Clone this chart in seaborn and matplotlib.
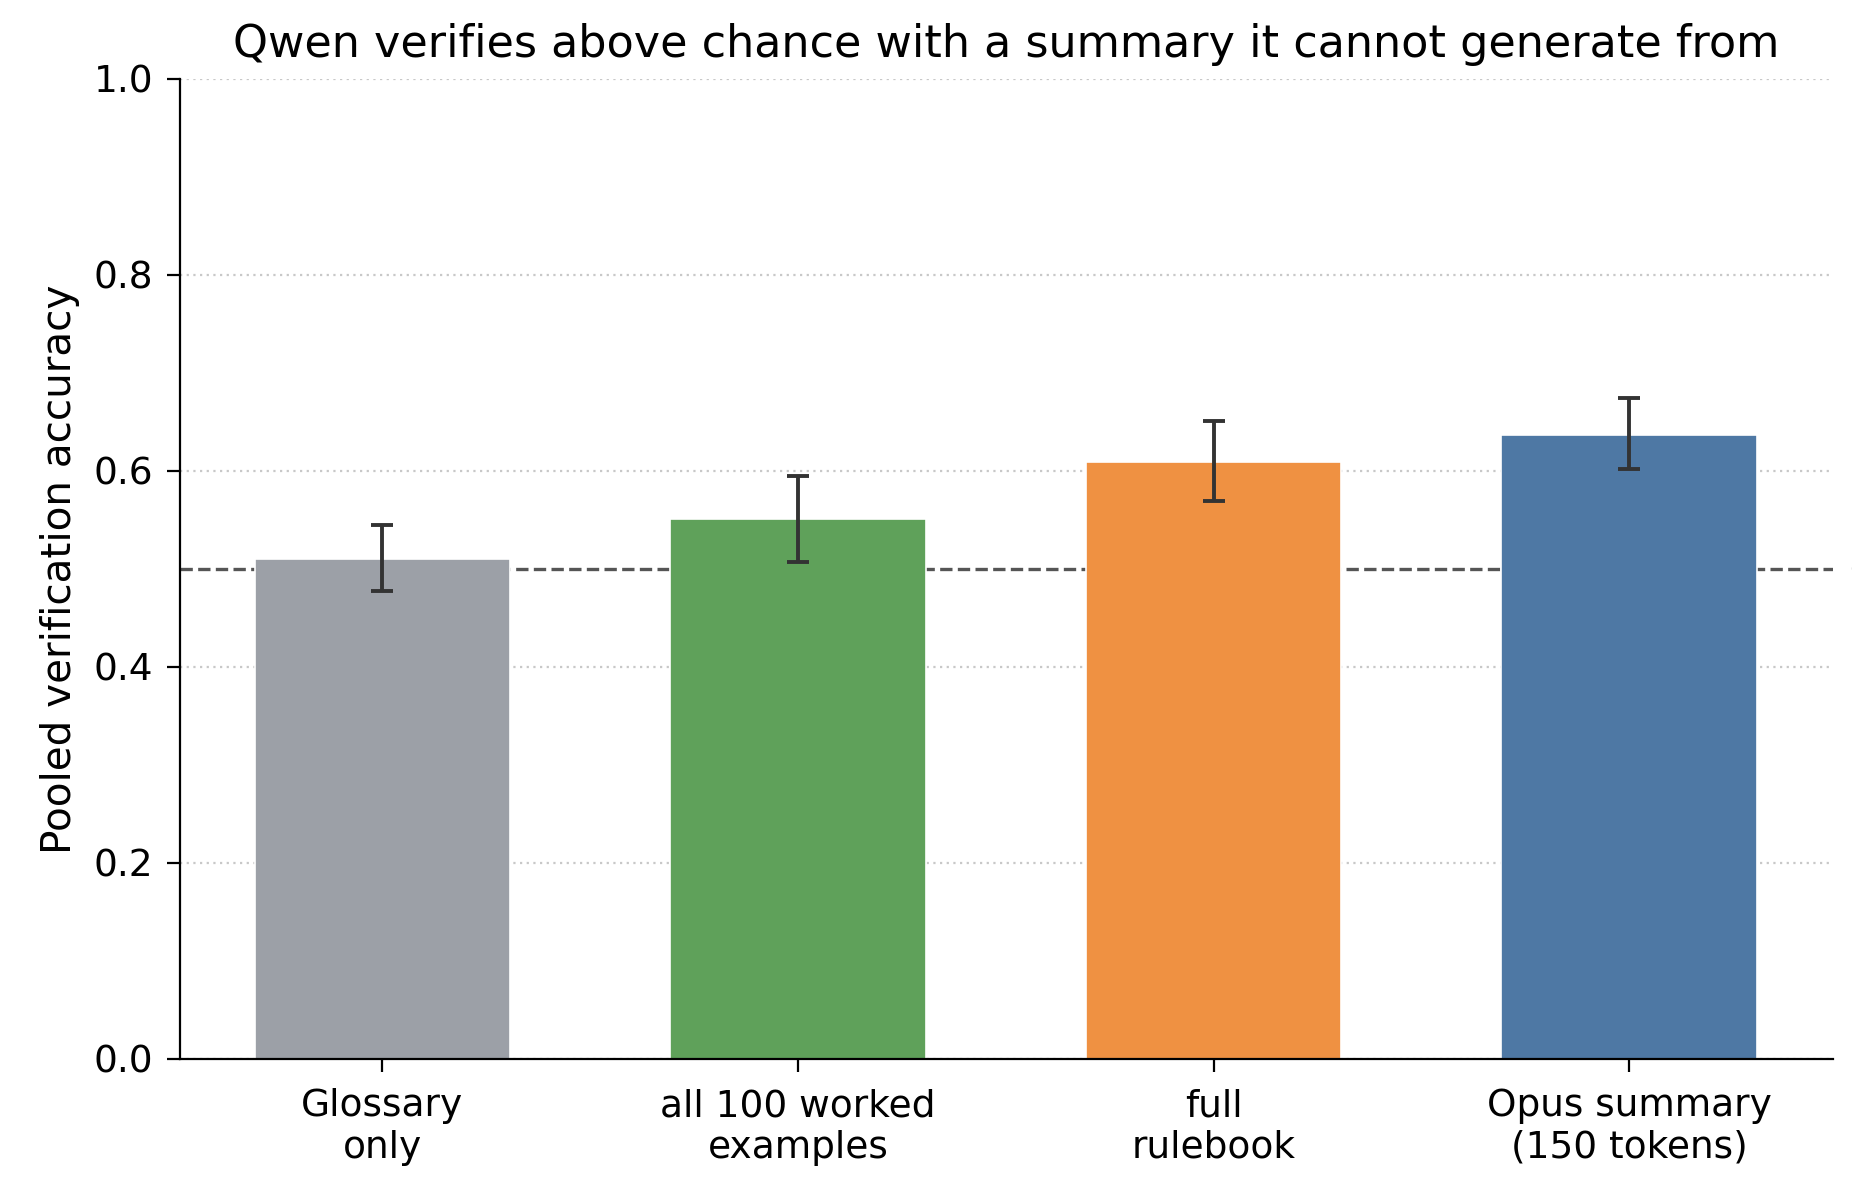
import matplotlib
matplotlib.use("Agg")
import matplotlib.pyplot as plt
import matplotlib.transforms as mtransforms
import seaborn as sns
import pandas as pd
import numpy as np

categories = ["Glossary\nonly", "all 100 worked\nexamples", "full\nrulebook", "Opus summary\n(150 tokens)"]
accuracy = [0.510, 0.551, 0.609, 0.637]
ci_low = [0.478, 0.507, 0.569, 0.602]
ci_high = [0.545, 0.595, 0.651, 0.674]
colors = ["#9CA0A7", "#5FA15A", "#EF9142", "#4E78A4"]
yticks = [0.0, 0.2, 0.4, 0.6, 0.8, 1.0]
chance = 0.5

sns.set_style("white")
plt.rcParams["font.family"] = ["DejaVu Sans"]
plt.rcParams["text.color"] = "black"
plt.rcParams["axes.labelcolor"] = "black"
plt.rcParams["xtick.color"] = "black"
plt.rcParams["ytick.color"] = "black"

df = pd.DataFrame({"condition": categories, "accuracy": accuracy})

fig = plt.figure(figsize=(9.26, 5.92), dpi=200)
ax = fig.add_axes([0.0972, 0.1056, 0.8925, 0.8277])

ax.set_axisbelow(True)
ax.yaxis.grid(True, linestyle=(0, (1, 2)), color="#c8c8c8", linewidth=0.8, zorder=0)
ax.axhline(chance, color="#555555", linestyle="--", linewidth=1.2, zorder=1)

sns.barplot(data=df, x="condition", y="accuracy", hue="condition", palette=colors,
            saturation=1, legend=False, errorbar=None, width=0.615,
            edgecolor="white", linewidth=0.6, ax=ax, zorder=2)

x = np.arange(len(categories))
acc = np.array(accuracy)
yerr = np.vstack([acc - np.array(ci_low), np.array(ci_high) - acc])
ax.errorbar(x, acc, yerr=yerr, fmt="none", ecolor="#333333", elinewidth=1.4,
            capsize=4, capthick=1.4, zorder=3)

trans = mtransforms.blended_transform_factory(ax.transAxes, ax.transData)
ax.text(1.01, chance, "chance", transform=trans, ha="left", va="center",
        fontsize=12, color="#555555", clip_on=False)

ax.set_xlim(-0.487, 3.49)
ax.set_ylim(0, 1.0)
ax.set_yticks(yticks)
ax.set_yticklabels([f"{t:.1f}" for t in yticks])
ax.set_xlabel("")
ax.set_ylabel("Pooled verification accuracy", fontsize=14.6, labelpad=5)
ax.set_title("Qwen verifies above chance with a summary it cannot generate from",
             fontsize=16, pad=8)
ax.tick_params(axis="both", labelsize=13.5, length=4.7, width=0.8, pad=5, color="black",
               left=True, bottom=True)
ax.tick_params(axis="x", pad=5.8)
for s in ["top", "right"]:
    ax.spines[s].set_visible(False)
for s in ["left", "bottom"]:
    ax.spines[s].set_color("black")
    ax.spines[s].set_linewidth(0.8)

fig.savefig("out.png", dpi=200)
